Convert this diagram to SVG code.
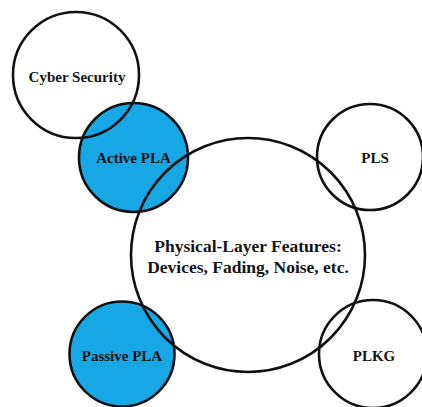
<svg xmlns="http://www.w3.org/2000/svg" width="422" height="407" viewBox="0 0 422 407">
  <style>
    .ring { fill: none; stroke: #111; stroke-width: 2.6; }
    .blue { fill: #18a7e5; stroke: none; }
    .lbl { font-family: "Liberation Serif", "Times New Roman", serif; font-weight: bold; font-size: 15px; fill: #141414; text-anchor: middle; }
    .big { font-size: 17.5px; }
  </style>
  <rect width="422" height="407" fill="#ffffff"/>

  <!-- filled discs go underneath so every outline stays visible -->
  <g id="fills">
    <circle class="blue" cx="133.5" cy="157.5" r="54.5"/>
    <circle class="blue" cx="122" cy="354" r="52.5"/>
  </g>

  <g id="cyber-security">
    <circle class="ring" cx="76" cy="75" r="63"/>
    <text class="lbl" x="77" y="82">Cyber Security</text>
  </g>

  <g id="active-pla">
    <circle class="ring" cx="133.5" cy="157.5" r="54.5"/>
    <text class="lbl" x="133.5" y="163">Active PLA</text>
  </g>

  <g id="physical-layer">
    <circle class="ring" cx="248" cy="255" r="117"/>
    <text class="lbl big" x="248" y="252">Physical-Layer Features:</text>
    <text class="lbl big" x="248" y="273">Devices, Fading, Noise, etc.</text>
  </g>

  <g id="pls">
    <circle class="ring" cx="370" cy="157" r="53"/>
    <text class="lbl" x="375" y="163">PLS</text>
  </g>

  <g id="plkg">
    <circle class="ring" cx="373" cy="354" r="54"/>
    <text class="lbl" x="374" y="361">PLKG</text>
  </g>

  <g id="passive-pla">
    <circle class="ring" cx="122" cy="354" r="52.5"/>
    <text class="lbl" x="122" y="361">Passive PLA</text>
  </g>
</svg>
